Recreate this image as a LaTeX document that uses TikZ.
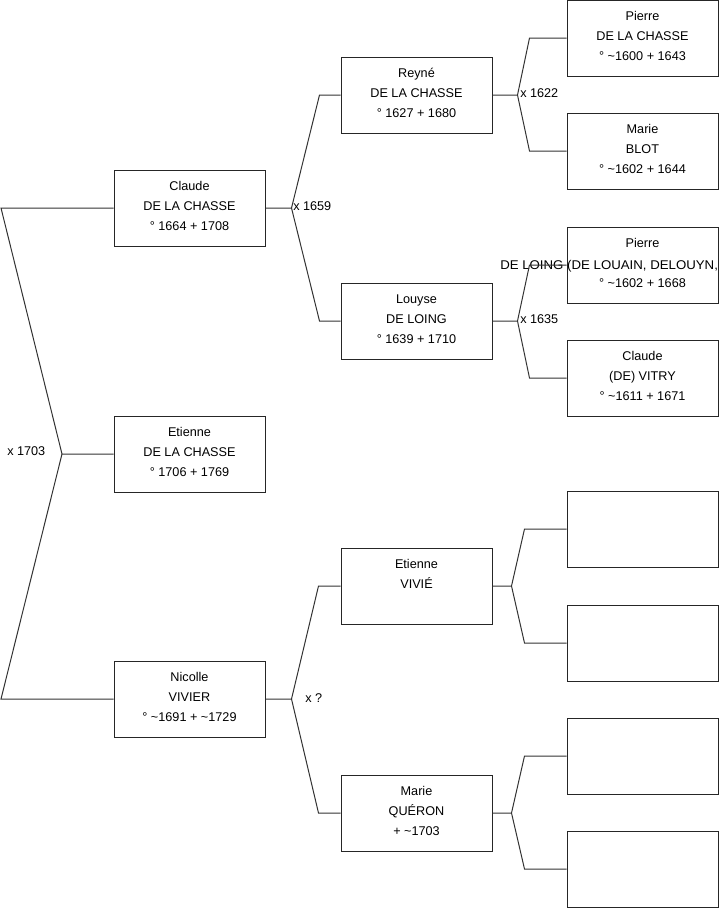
\documentclass[tikz,border=0pt]{standalone}
\usepackage{fontspec}
\setmainfont{Liberation Sans}
\usepackage{graphicx}
\tikzset{
  person/.style={draw=black!85, line width=0.75pt, minimum width=113.25pt, minimum height=57pt, inner sep=0pt},
  ptext/.style={anchor=north, align=center, inner sep=0pt, font=\fontsize{9.5}{15}\selectfont},
  link/.style={draw=black!80, line width=0.75pt},
  mar/.style={anchor=base west, inner sep=0pt, font=\fontsize{9.5}{15}\selectfont}
}
\newcommand\person[4]{%
  \node[person] (#1) at (#2,#3) {};
  \node[ptext] (#1t) at ([yshift=-3.4pt]#1.north) {\rule{0pt}{12pt}#4};
}
\begin{document}
\begin{tikzpicture}[x=0.75pt,y=-0.75pt]
\useasboundingbox (0,0) rectangle (719,908);
% generation 1
\person{claude}{189.5}{208}{Claude\\DE LA CHASSE\\° 1664 + 1708}
\person{etienne}{189.5}{454}{Etienne\\DE LA CHASSE\\° 1706 + 1769}
\person{nicolle}{189.5}{699}{Nicolle\\VIVIER\\° \textasciitilde1691 + \textasciitilde1729}
% generation 2
\person{reyne}{416.5}{95}{Reyné\\DE LA CHASSE\\° 1627 + 1680}
\person{louyse}{416.5}{321}{Louyse\\DE LOING\\° 1639 + 1710}
\person{etvivie}{416.5}{586}{Etienne\\VIVIÉ}
\person{marie}{416.5}{813}{Marie\\QUÉRON\\+ \textasciitilde1703}
% generation 3
\person{pierre}{642.5}{38}{Pierre\\DE LA CHASSE\\° \textasciitilde1600 + 1643}
\person{blot}{642.5}{151}{Marie\\BLOT\\° \textasciitilde1602 + 1644}
\person{loing}{642.5}{265}{Pierre\\\mbox{}\\° \textasciitilde1602 + 1668}
\person{vitry}{642.5}{378}{Claude\\(DE) VITRY\\° \textasciitilde1611 + 1671}
\node[person] (ea) at (642.5,529) {};
\node[person] (eb) at (642.5,643) {};
\node[person] (ec) at (642.5,756) {};
\node[person] (ed) at (642.5,869) {};
\node[mar] (loingname) at (500,269) {\scalebox{1.045}[1]{DE LOING (DE LOUAIN, DELOUYN,}};
% root bracket
\coordinate (jroot) at (62,454);
\coordinate (rtop) at (1,208);
\coordinate (rbot) at (1,699);
\draw[link] (etienne.west) -- (jroot) -- (rtop) -- (claude.west);
\draw[link] (jroot) -- (rbot) -- (nicolle.west);
% claude bracket
\coordinate (jc) at ([xshift=19.5pt]claude.east);
\draw[link] (claude.east) -- (jc) -- ([xshift=-15.75pt]reyne.west) -- (reyne.west);
\draw[link] (jc) -- ([xshift=-15.75pt]louyse.west) -- (louyse.west);
% nicolle bracket
\coordinate (jn) at ([xshift=19.5pt]nicolle.east);
\draw[link] (nicolle.east) -- (jn) -- ([xshift=-16.5pt]etvivie.west) -- (etvivie.west);
\draw[link] (jn) -- ([xshift=-16.5pt]marie.west) -- (marie.west);
% reyne bracket
\coordinate (jr) at ([xshift=18.75pt]reyne.east);
\draw[link] (reyne.east) -- (jr) -- ([xshift=-27.75pt]pierre.west) -- (pierre.west);
\draw[link] (jr) -- ([xshift=-27.75pt]blot.west) -- (blot.west);
% louyse bracket
\coordinate (jl) at ([xshift=18.75pt]louyse.east);
\draw[link] (louyse.east) -- (jl) -- ([xshift=-27.75pt]loing.west) -- (loing.west);
\draw[link] (jl) -- ([xshift=-27.75pt]vitry.west) -- (vitry.west);
% etienne vivie bracket
\coordinate (jv) at ([xshift=14.25pt]etvivie.east);
\draw[link] (etvivie.east) -- (jv) -- ([xshift=-31.5pt]ea.west) -- (ea.west);
\draw[link] (jv) -- ([xshift=-31.5pt]eb.west) -- (eb.west);
% marie bracket
\coordinate (jm) at ([xshift=14.25pt]marie.east);
\draw[link] (marie.east) -- (jm) -- ([xshift=-31.5pt]ec.west) -- (ec.west);
\draw[link] (jm) -- ([xshift=-31.5pt]ed.west) -- (ed.west);
% marriage labels
\node[mar] (m1703) at (7,455.5) {x 1703};
\node[mar] (m1659) at (293,210.5) {x 1659};
\node[mar] (m1622) at (520,97.5) {x 1622};
\node[mar] (m1635) at (520,323.5) {x 1635};
\node[mar] (mq) at (305,702.5) {x ?};
\end{tikzpicture}
\end{document}
